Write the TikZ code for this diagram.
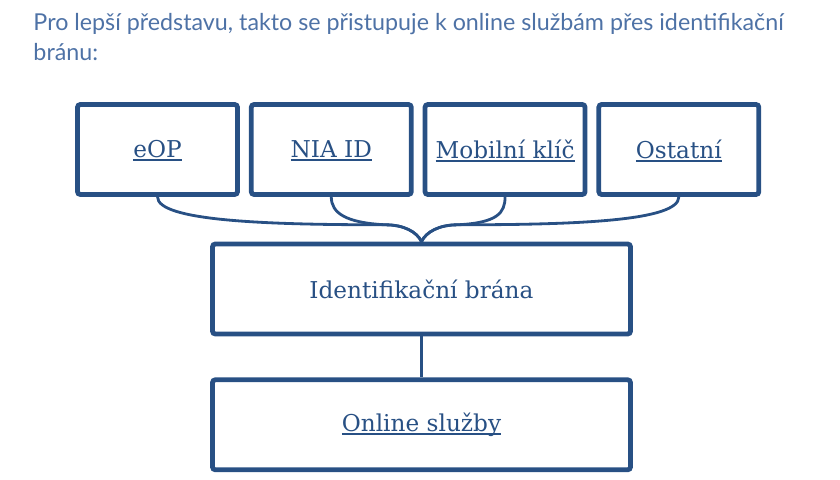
\documentclass[tikz,border=0pt]{standalone}
\usepackage{fontspec}
\usepackage{tikz}
\usetikzlibrary{calc,positioning}
\newfontfamily\headfont{Lato}
\newfontfamily\boxfont{DejaVu Serif}
\definecolor{boxblue}{RGB}{40,80,132}
\definecolor{headblue}{RGB}{78,114,166}
\newcommand{\linktext}[1]{\setbox0\hbox{#1}\rlap{\smash{\rule[-0.15em]{\wd0}{0.085em}}}\box0}

\tikzset{
  portalbox/.style={draw=boxblue, line width=3.4pt, rounded corners=2pt,
    minimum width=4cm, minimum height=2.25cm, text=boxblue,
    font=\boxfont\fontsize{16.5}{19}\selectfont},
  widebox/.style={portalbox, minimum width=10.45cm},
  joinline/.style={draw=boxblue, line width=2pt}
}

\begin{document}
\begin{tikzpicture}
    \useasboundingbox (0,0) rectangle (21,12);

    \node[anchor=base west, inner sep=0pt, align=left, text=headblue,
      font=\headfont\fontsize{16.55}{21.3}\selectfont] (intro) at (0.83,10.48)
      {Pro lepší představu, takto se přistupuje k online službám přes identifikační\\bránu:};

    \node[portalbox] (eop) at (3.9375,8.2625) {\linktext{eOP}};
    \node[portalbox, right = 0.225cm of eop] (nia) {\linktext{NIA ID}};
    \node[portalbox, right = 0.225cm of nia] (mob) {\linktext{Mobilní klíč}};
    \node[portalbox, right = 0.225cm of mob] (ost) {\linktext{Ostatní}};

    \node[widebox] (brana) at (10.5375,4.775) {Identifikační brána};
    \node[widebox, below = 1.025cm of brana] (online) {\linktext{Online služby}};

    \coordinate (tip) at (brana.north);
    \coordinate (lj) at ($(tip)+(-0.9,0.42)$);
    \coordinate (rj) at ($(tip)+(0.9,0.42)$);

    % brace from the four portals
    \draw[joinline] (eop.south) .. controls +(0,-0.6) and +(-3.0,0) .. (lj)
      .. controls +(0.45,0) and +(-0.12,0.25) .. (tip);
    \draw[joinline] (nia.south) .. controls +(0,-0.4) and +(-1.0,0.05) .. (lj)
      .. controls +(0.45,0) and +(-0.12,0.25) .. (tip);
    \draw[joinline] (mob.south) .. controls +(0,-0.4) and +(1.0,0.05) .. (rj)
      .. controls +(-0.45,0) and +(0.12,0.25) .. (tip);
    \draw[joinline] (ost.south) .. controls +(0,-0.6) and +(3.0,0) .. (rj)
      .. controls +(-0.45,0) and +(0.12,0.25) .. (tip);

    \draw[joinline] (brana) -- (online);
\end{tikzpicture}
\end{document}
